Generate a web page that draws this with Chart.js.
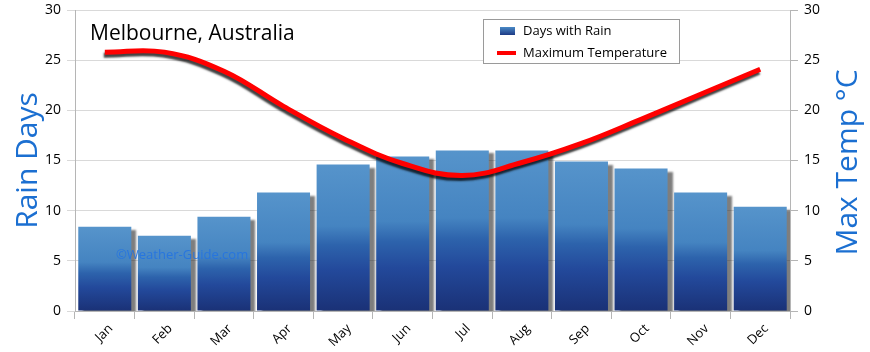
<!DOCTYPE html>
<html>
<head>
<meta charset="utf-8">
<script src="https://cdn.jsdelivr.net/npm/chart.js@4.4.1/dist/chart.umd.min.js"></script>
<style>
  html, body { margin: 0; padding: 0; background: #ffffff; }
  #wrap { width: 870px; height: 352px; }
</style>
</head>
<body>
<div id="wrap"><canvas id="climaChart" width="870" height="352"></canvas></div>
<script>
// datos del grafico
var meses = ['Jan', 'Feb', 'Mar', 'Apr', 'May', 'Jun', 'Jul', 'Aug', 'Sep', 'Oct', 'Nov', 'Dec'];
var diasLluvia = [8.4, 7.5, 9.4, 11.8, 14.6, 15.4, 16.0, 16.0, 14.9, 14.2, 11.8, 10.4];
var tempMaxima = [25.8, 25.8, 23.9, 20.4, 17.2, 14.7, 13.5, 14.8, 16.7, 19.1, 21.6, 24.1];
var ticksEje = [0, 5, 10, 15, 20, 25, 30];

var fuente = "'Open Sans', sans-serif";
var azulTitulo = '#1b6fd1';

// degradado por barra, de claro arriba a oscuro abajo
function degradadoBarra(context) {
    var chart = context.chart;
    if (!chart.chartArea || context.raw === undefined) return '#2a5ea8';
    var y = chart.scales.y;
    var top = y.getPixelForValue(context.raw);
    var bottom = y.getPixelForValue(0);
    var g = chart.ctx.createLinearGradient(0, top, 0, bottom);
    g.addColorStop(0, '#5694cb');
    g.addColorStop(0.42, '#4584c1');
    g.addColorStop(0.55, '#2d63ac');
    g.addColorStop(0.72, '#23499b');
    g.addColorStop(1, '#1a3176');
    return g;
}

// sombras para barras y linea
var sombras = {
    id: 'sombras',
    beforeDatasetDraw: function (chart, args) {
        var ctx = chart.ctx;
        ctx.save();
        if (args.meta.type === 'bar') {
            ctx.shadowColor = 'rgba(40,40,40,0.6)';
            ctx.shadowOffsetX = 5;
            ctx.shadowOffsetY = 3;
            ctx.shadowBlur = 2;
        } else {
            ctx.shadowColor = 'rgba(0,0,0,0.75)';
            ctx.shadowOffsetX = -1;
            ctx.shadowOffsetY = 3;
            ctx.shadowBlur = 2;
        }
    },
    afterDatasetDraw: function (chart) {
        chart.ctx.restore();
    }
};

// titulo, marca de agua, leyenda y titulo del eje derecho
var extras = {
    id: 'extras',
    afterDatasetsDraw: function (chart) {
        var ctx = chart.ctx;
        ctx.save();
        ctx.fillStyle = 'rgba(35,115,225,0.9)';
        ctx.font = '13px ' + fuente;
        ctx.textBaseline = 'middle';
        ctx.textAlign = 'left';
        ctx.fillText('\u00A9Weather-Guide.com', 116, 255);
        ctx.restore();
    },
    afterDraw: function (chart) {
        var ctx = chart.ctx;
        var area = chart.chartArea;
        ctx.save();

        ctx.fillStyle = '#000';
        ctx.font = '21px ' + fuente;
        ctx.textBaseline = 'middle';
        ctx.textAlign = 'left';
        ctx.fillText('Melbourne, Australia', area.left + 15, 34);

        // leyenda
        var lx = 483, ly = 19, lw = 196, lh = 44;
        ctx.fillStyle = '#fff';
        ctx.fillRect(lx, ly, lw, lh);
        ctx.strokeStyle = '#9a9a9a';
        ctx.lineWidth = 1;
        ctx.strokeRect(lx + 0.5, ly + 0.5, lw, lh);

        var gi = ctx.createLinearGradient(0, 27, 0, 35);
        gi.addColorStop(0, '#4a8ac6');
        gi.addColorStop(1, '#1d3a85');
        ctx.fillStyle = gi;
        ctx.fillRect(500, 27, 15, 8);
        ctx.fillStyle = '#ff0000';
        ctx.fillRect(497, 51, 19, 4);

        ctx.fillStyle = '#000';
        ctx.font = '13px ' + fuente;
        ctx.fillText(chart.data.datasets[1].label, 523, 31);
        ctx.fillText(chart.data.datasets[0].label, 523, 53);

        // titulo eje derecho, leido de abajo hacia arriba
        ctx.translate(848, (area.top + area.bottom) / 2 + 2);
        ctx.rotate(-Math.PI / 2);
        ctx.textAlign = 'center';
        ctx.fillStyle = azulTitulo;
        ctx.font = '30px ' + fuente;
        ctx.fillText('Max Temp \u00B0C', 0, 0);
        ctx.restore();
    }
};

// ancho fijo y sin relleno extra arriba/abajo
function ajusteEje(ancho) {
    return function (scale) {
        scale.width = ancho;
        scale.paddingTop = 0;
        scale.paddingBottom = 0;
    };
}

var ctx = document.getElementById('climaChart').getContext('2d');
var climaChart = new Chart(ctx, {
    type: 'bar',
    data: {
        labels: meses,
        datasets: [{
            type: 'line',
            label: 'Maximum Temperature',
            data: tempMaxima,
            yAxisID: 'y2',
            borderColor: '#ff0000',
            borderWidth: 5,
            pointRadius: 0,
            tension: 0.4,
            fill: false,
            order: 0
        }, {
            type: 'bar',
            label: 'Days with Rain',
            data: diasLluvia,
            yAxisID: 'y',
            backgroundColor: degradadoBarra,
            barPercentage: 0.89,
            categoryPercentage: 1,
            order: 1
        }]
    },
    options: {
        responsive: false,
        animation: false,
        layout: { autoPadding: false, padding: { top: 10 } },
        plugins: {
            legend: { display: false },
            tooltip: { enabled: false }
        },
        scales: {
            x: {
                offset: true,
                grid: { offset: true, drawOnChartArea: false, tickLength: 8, color: '#b5b5b5' },
                border: { display: true, color: '#b5b5b5' },
                ticks: {
                    color: '#000',
                    font: { family: fuente, size: 13 },
                    maxRotation: 45,
                    minRotation: 45,
                    padding: 2,
                    labelOffset: 6
                },
                afterFit: function (scale) { scale.height = 41; }
            },
            y: {
                position: 'left',
                min: 0,
                max: 30,
                afterBuildTicks: function (scale) {
                    scale.ticks = ticksEje.map(function (v) { return { value: v }; });
                },
                grid: { color: '#d9d9d9', tickLength: 8 },
                border: { color: '#b5b5b5' },
                ticks: { color: '#000', font: { family: fuente, size: 14 }, padding: 6 },
                title: {
                    display: true,
                    text: 'Rain Days',
                    color: azulTitulo,
                    font: { family: fuente, size: 30 },
                    padding: { top: 10, bottom: 0 }
                },
                afterFit: ajusteEje(75)
            },
            y2: {
                position: 'right',
                min: 0,
                max: 30,
                afterBuildTicks: function (scale) {
                    scale.ticks = ticksEje.map(function (v) { return { value: v }; });
                },
                grid: { drawOnChartArea: false, tickLength: 8, color: '#b5b5b5' },
                border: { color: '#b5b5b5' },
                ticks: { color: '#000', font: { family: fuente, size: 14 }, padding: 6 },
                afterFit: ajusteEje(80)
            }
        }
    },
    plugins: [sombras, extras]
});
</script>
</body>
</html>
